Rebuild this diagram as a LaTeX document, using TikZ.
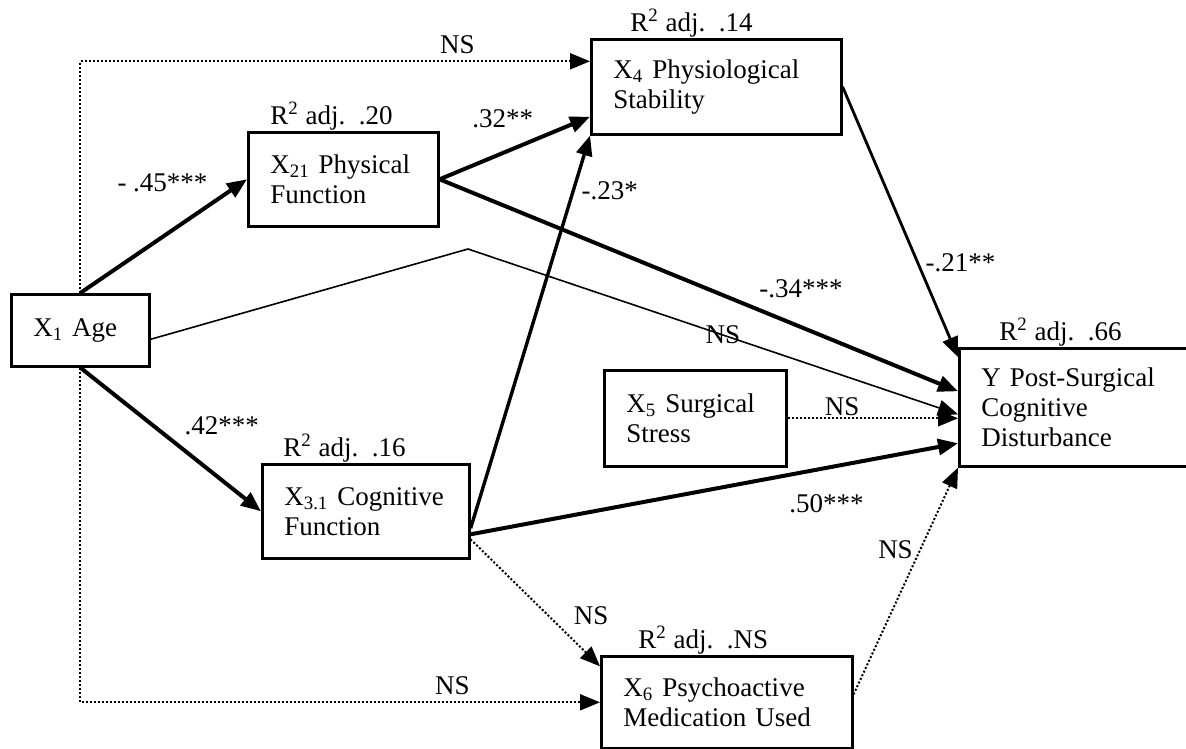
\documentclass[tikz,border=0pt]{standalone}
\usepackage{fontspec}
\setmainfont{Liberation Serif}
\usepackage{tikz}
\usetikzlibrary{arrows.meta, positioning}
\tikzset{
  var/.style={draw, line width=1.3pt, rectangle, anchor=north west, align=left, inner xsep=11pt},
  rlab/.style={inner sep=0pt},
  sig/.style={->, line width=2pt},
  ns/.style={->, line width=1pt, densely dotted},
  nsline/.style={->, line width=0.8pt},
}
\newcommand{\radj}[1]{R\textsuperscript{2} adj.\ \ #1}

\begin{document}
\begin{tikzpicture}[x=0.5pt, y=-0.5pt, >={Triangle[length=10pt,width=8pt]}, font=\fontsize{13.5}{15}\selectfont]
\clip (0,0) rectangle (1186,748);
% variables
\node[var, text width=47pt, minimum height=36pt] (x1) at (10,293) {X\textsubscript{1} Age};
\node[var, text width=73pt, minimum height=47pt] (x21) at (247,131) {X\textsubscript{21} Physical\\Function};
\node[var, text width=103pt, minimum height=47.5pt] (x4) at (590,38) {X\textsubscript{4} Physiological\\Stability};
\node[var, text width=81.5pt, minimum height=47pt] (x31) at (261,463) {X\textsubscript{3.1} Cognitive\\Function};
\node[var, text width=69pt, minimum height=48pt] (x5) at (603,369) {X\textsubscript{5} Surgical\\Stress};
\node[var, text width=103.5pt, minimum height=46pt] (x6) at (600,655) {X\textsubscript{6} Psychoactive\\Medication Used};
\node[var, text width=108pt, minimum height=59pt] (y) at (958,347) {Y Post-Surgical\\Cognitive\\Disturbance};
% R square labels
\node[rlab, above right=0pt and 11.5pt of x21.north west] (r21) {\radj{.20}};
\node[rlab, above right=0pt and 20pt of x4.north west] (r4) {\radj{.14}};
\node[rlab, above right=0pt and 11pt of x31.north west] (r31) {\radj{.16}};
\node[rlab, above right=0pt and 19pt of x6.north west] (r6) {\radj{.NS}};
\node[rlab, above right=0pt and 20.5pt of y.north west] (ry) {\radj{.66}};
\coordinate (peak) at (468,249);

% paths
\draw[ns] (x1.north) |- node[pos=.87, above] (n14) {NS} ([yshift=12.75pt]x4.west);
\draw[sig] (x1.north) -- node[pos=.815, above left] (n121) {- .45***} (x21.west);
\draw[sig] (x1.south) -- node[pos=.53, above right] (n131) {.42***} (x31.west);
\draw[nsline] ([yshift=-4.5pt]x1.east) -- (peak) -- node[pos=.52] (n1y) {NS} ([yshift=-3.5pt]y.west);
\draw[ns] (x1.south) |- node[pos=.858, above] (n16) {NS} (x6.west);
\draw[sig] (x21.east) -- node[pos=.68, above left] (n214) {.32**} ([yshift=-15pt]x4.west);
\draw[sig] (x21.east) -- node[pos=.6, above right] (n21y) {-.34***} ([yshift=8pt]y.west);
\draw[sig, line width=1.7pt] ([yshift=-8.5pt]x31.east) -- node[pos=.86, right] (n314) {-.23*} (x4.south west);
\draw[sig] ([yshift=-11.5pt]x31.east) -- node[pos=.73, below=9pt] (n31y) {.50***} ([yshift=-18pt]y.west);
\draw[ns] ([yshift=-14pt]x31.east) -- node[pos=.6, right=9pt] (n316) {NS} ([yshift=18pt]x6.west);
\draw[sig, line width=1.4pt] (x4.east) -- node[pos=.65, right] (n4y) {-.21**} ([yshift=-5pt]y.north west);
\draw[ns] (x5.east) -- node[pos=.32, above, inner sep=1pt] (n5y) {NS} (x5.east -| y.west);
\draw[ns] ([yshift=4pt]x6.east) -- node[pos=.64, left] (n6y) {NS} (y.south west);
\end{tikzpicture}
\end{document}
